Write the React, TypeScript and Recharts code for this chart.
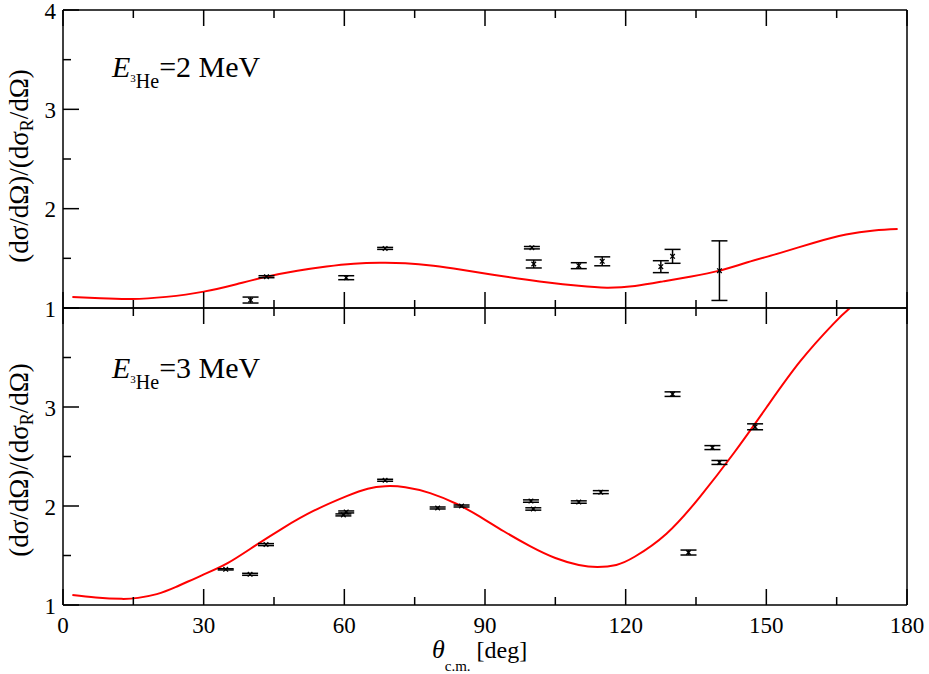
import React from 'react';
import { ComposedChart, Line, Scatter, XAxis, YAxis, ErrorBar } from 'recharts';

const FONT = "'Liberation Serif','DejaVu Serif','Times New Roman',serif";

const xTickVals = [0, 15, 30, 45, 60, 75, 90, 105, 120, 135, 150, 165, 180];
const yTickVals = [1, 1.5, 2, 2.5, 3, 3.5, 4];
const topYLabels = [1, 2, 3, 4];
const bottomYLabels = [1, 2, 3];

// E(3He) = 2 MeV data: angle, ratio, error
const topPoints = [
  { x: 40.0, y: 1.08, err: 0.03 },
  { x: 43.4, y: 1.315, err: 0.01 },
  { x: 60.4, y: 1.305, err: 0.02 },
  { x: 68.7, y: 1.6, err: 0.01 },
  { x: 100.0, y: 1.607, err: 0.012 },
  { x: 100.4, y: 1.443, err: 0.04 },
  { x: 110.0, y: 1.426, err: 0.03 },
  { x: 115.0, y: 1.47, err: 0.045 },
  { x: 127.5, y: 1.416, err: 0.06 },
  { x: 130.0, y: 1.52, err: 0.07 },
  { x: 140.0, y: 1.376, err: 0.3 },
];

const topCurve = [
  { x: 2, y: 1.11 }, { x: 8, y: 1.097 }, { x: 14.6, y: 1.09 },
  { x: 22, y: 1.112 }, { x: 30, y: 1.165 }, { x: 37, y: 1.24 },
  { x: 43.4, y: 1.315 }, { x: 50, y: 1.375 }, { x: 56.2, y: 1.418 },
  { x: 62, y: 1.446 }, { x: 67.6, y: 1.456 }, { x: 73, y: 1.451 },
  { x: 79, y: 1.425 }, { x: 85, y: 1.385 }, { x: 91, y: 1.34 },
  { x: 97, y: 1.298 }, { x: 103, y: 1.26 }, { x: 110, y: 1.223 },
  { x: 116, y: 1.205 }, { x: 122, y: 1.222 }, { x: 128, y: 1.268 },
  { x: 134, y: 1.318 }, { x: 140, y: 1.376 }, { x: 146, y: 1.46 },
  { x: 153, y: 1.555 }, { x: 160, y: 1.655 }, { x: 167, y: 1.74 },
  { x: 173, y: 1.78 }, { x: 178, y: 1.795 },
];

// E(3He) = 3 MeV data
const bottomPoints = [
  { x: 34.7, y: 1.36, err: 0.006 },
  { x: 39.9, y: 1.31, err: 0.01 },
  { x: 43.3, y: 1.61, err: 0.01 },
  { x: 59.8, y: 1.91, err: 0.01 },
  { x: 60.4, y: 1.94, err: 0.01 },
  { x: 68.7, y: 2.26, err: 0.01 },
  { x: 79.9, y: 1.98, err: 0.01 },
  { x: 85.0, y: 2.0, err: 0.01 },
  { x: 99.8, y: 2.05, err: 0.012 },
  { x: 100.3, y: 1.97, err: 0.012 },
  { x: 110.0, y: 2.04, err: 0.012 },
  { x: 114.7, y: 2.14, err: 0.015 },
  { x: 130.0, y: 3.13, err: 0.023 },
  { x: 133.4, y: 1.53, err: 0.025 },
  { x: 138.5, y: 2.59, err: 0.02 },
  { x: 140.0, y: 2.44, err: 0.02 },
  { x: 147.6, y: 2.8, err: 0.03 },
];

const bottomCurve = [
  { x: 2, y: 1.1 }, { x: 7, y: 1.075 }, { x: 12.5, y: 1.062 }, { x: 16, y: 1.072 },
  { x: 20, y: 1.11 }, { x: 24, y: 1.18 }, { x: 29.6, y: 1.3 }, { x: 35, y: 1.42 },
  { x: 41, y: 1.6 }, { x: 47, y: 1.78 }, { x: 53.4, y: 1.95 }, { x: 60.5, y: 2.1 },
  { x: 65, y: 2.175 }, { x: 68.7, y: 2.2 }, { x: 73, y: 2.19 }, { x: 78.3, y: 2.13 },
  { x: 84, y: 2.02 }, { x: 89, y: 1.89 }, { x: 94, y: 1.745 }, { x: 99.6, y: 1.595 },
  { x: 105, y: 1.475 }, { x: 110, y: 1.405 }, { x: 114, y: 1.385 }, { x: 118, y: 1.405 },
  { x: 122, y: 1.49 }, { x: 128.7, y: 1.72 }, { x: 135.8, y: 2.09 }, { x: 143, y: 2.53 },
  { x: 150.1, y: 3.0 }, { x: 157.2, y: 3.46 }, { x: 164.3, y: 3.84 }, { x: 170, y: 4.08 },
  { x: 178, y: 4.3 },
];

const AX = '#000';
const TW = 1.5;
const MAJOR = 16;
const MINOR = 8;

const isMajorX = (v: number) => Math.abs(v % 30) < 1e-6;
const isMajorY = (v: number) => Math.abs(v - Math.round(v)) < 1e-6;

// tick marks drawn as filled rectangles at the positions the axis hands to its tick renderer
function makeBottomTick(showLabel: boolean) {
  return (p: any) => {
    const v = Number(p.payload.value);
    const x = Number(p.x);
    const y = Number(p.y);
    const len = isMajorX(v) ? MAJOR : MINOR;
    return (
      <g>
        <rect x={x - TW / 2} y={y - len} width={TW} height={len} fill={AX} />
        {showLabel && isMajorX(v) ? (
          <text x={x} y={y + 28} textAnchor="middle" fontSize={23} fontFamily={FONT} fill="#000">
            {v}
          </text>
        ) : null}
      </g>
    );
  };
}

const topTick = (p: any) => {
  const v = Number(p.payload.value);
  const x = Number(p.x);
  const y = Number(p.y);
  const len = isMajorX(v) ? MAJOR : MINOR;
  return (
    <g>
      <rect x={x - TW / 2} y={y} width={TW} height={len} fill={AX} />
    </g>
  );
};

function makeLeftTick(labels: number[]) {
  return (p: any) => {
    const v = Number(p.payload.value);
    const x = Number(p.x);
    const y = Number(p.y);
    const len = isMajorY(v) ? MAJOR : MINOR;
    return (
      <g>
        <rect x={x} y={y - TW / 2} width={len} height={TW} fill={AX} />
        {labels.indexOf(v) >= 0 ? (
          <text x={x - 7} y={y + 8.5} textAnchor="end" fontSize={23} fontFamily={FONT} fill="#000">
            {v}
          </text>
        ) : null}
      </g>
    );
  };
}

const XMark = (p: any) => {
  const { cx, cy } = p;
  if (cx == null || cy == null) return <g />;
  const s = 2.3;
  return (
    <path
      d={`M${cx - s},${cy - s}L${cx + s},${cy + s}M${cx - s},${cy + s}L${cx + s},${cy - s}`}
      stroke="#000"
      strokeWidth={1.3}
      fill="none"
    />
  );
};

function Panel(props: {
  height: number;
  margin: any;
  points: any[];
  curve: any[];
  labels: number[];
  showX: boolean;
}) {
  const { height, margin, points, curve, labels, showX } = props;
  return (
    <ComposedChart width={929} height={height} margin={margin}>
      <XAxis
        xAxisId="b"
        type="number"
        dataKey="x"
        domain={[0, 180]}
        ticks={xTickVals}
        interval={0}
        allowDataOverflow
        height={1}
        tickSize={0}
        tickMargin={0}
        tickLine={false}
        axisLine={{ stroke: AX, strokeWidth: TW }}
        tick={makeBottomTick(showX)}
      />
      <XAxis
        xAxisId="t"
        orientation="top"
        type="number"
        dataKey="x"
        domain={[0, 180]}
        ticks={xTickVals}
        interval={0}
        allowDataOverflow
        height={1}
        tickSize={0}
        tickMargin={0}
        tickLine={false}
        axisLine={{ stroke: AX, strokeWidth: TW }}
        tick={topTick}
      />
      <YAxis
        yAxisId="l"
        type="number"
        dataKey="y"
        domain={[1, 4]}
        ticks={yTickVals}
        interval={0}
        allowDataOverflow
        width={63}
        tickSize={0}
        tickMargin={0}
        tickLine={false}
        axisLine={{ stroke: AX, strokeWidth: TW }}
        tick={makeLeftTick(labels)}
      />
      <YAxis
        yAxisId="r"
        orientation="right"
        type="number"
        dataKey="y"
        domain={[1, 4]}
        ticks={yTickVals}
        allowDataOverflow
        width={1}
        tick={false}
        tickLine={false}
        axisLine={{ stroke: AX, strokeWidth: TW }}
      />
      <Line
        xAxisId="b"
        yAxisId="l"
        data={curve}
        dataKey="y"
        type="natural"
        stroke="#ff0000"
        strokeWidth={2}
        dot={false}
        activeDot={false}
        isAnimationActive={false}
      />
      <Scatter
        xAxisId="b"
        yAxisId="l"
        data={points}
        dataKey="y"
        shape={XMark}
        isAnimationActive={false}
      >
        <ErrorBar dataKey="err" direction="y" width={8} stroke="#000" strokeWidth={1.5} isAnimationActive={false} />
      </Scatter>
    </ComposedChart>
  );
}

function ELabel(props: { x: number; y: number; mev: string }) {
  const { x, y, mev } = props;
  return (
    <text x={x} y={y} fontFamily={FONT} fontSize={30} fill="#000">
      <tspan fontStyle="italic">E</tspan>
      <tspan fontSize={11} dy={5}>3</tspan>
      <tspan fontSize={20} dy={6}>He</tspan>
      <tspan fontSize={30} dy={-11}>{'=' + mev + ' MeV'}</tspan>
    </text>
  );
}

function YTitle(props: { cy: number }) {
  return (
    <text
      transform={`translate(28,${props.cy}) rotate(-90)`}
      textAnchor="middle"
      fontFamily={FONT}
      fontSize={27}
      fill="#000"
    >
      (dσ/dΩ)/(dσ
      <tspan fontSize={18} dy={5}>R</tspan>
      <tspan dy={-5}>/dΩ)</tspan>
    </text>
  );
}

export default function App() {
  return (
    <div style={{ position: 'absolute', left: 0, top: 0, width: 929, height: 674, background: '#fff' }}>
      <svg width={929} height={674} style={{ position: 'absolute', left: 0, top: 0, pointerEvents: 'none' }}>
        <ELabel x={112} y={77} mev="2" />
        <ELabel x={112} y={378} mev="3" />
        <YTitle cy={166} />
        <YTitle cy={460} />
        <text x={432} y={658} fontFamily={FONT} fontSize={24} fill="#000">
          <tspan fontStyle="italic" fontSize={26}>θ</tspan>
          <tspan fontSize={15} dy={13}>c.m.</tspan>
          <tspan fontSize={24} dy={-13}>{' [deg]'}</tspan>
        </text>
      </svg>
      <div style={{ position: 'absolute', left: 0, top: 0 }}>
        <Panel
          height={320}
          margin={{ top: 9, right: 21, bottom: 11, left: 0 }}
          points={topPoints}
          curve={topCurve}
          labels={topYLabels}
          showX={false}
        />
      </div>
      <div style={{ position: 'absolute', left: 0, top: 298 }}>
        <Panel
          height={376}
          margin={{ top: 9, right: 21, bottom: 68, left: 0 }}
          points={bottomPoints}
          curve={bottomCurve}
          labels={bottomYLabels}
          showX={true}
        />
      </div>
    </div>
  );
}
